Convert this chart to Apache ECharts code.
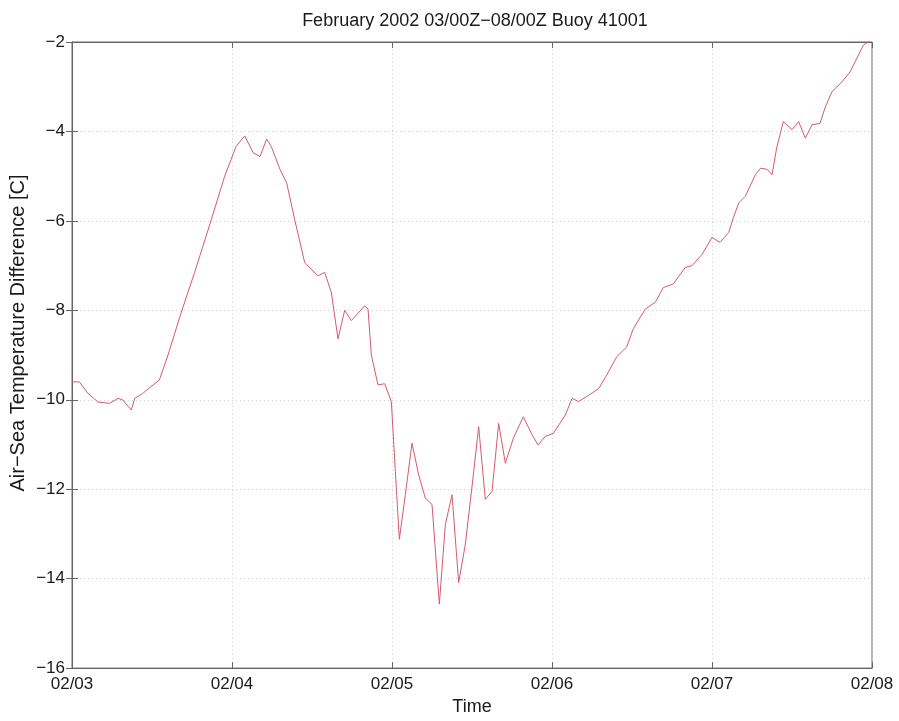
<!DOCTYPE html>
<html>
<head>
<meta charset="utf-8">
<script src="https://cdn.jsdelivr.net/npm/echarts@6/dist/echarts.min.js"></script>
<style>html,body{margin:0;padding:0;background:#fff}#c{width:899px;height:721px}</style>
</head>
<body>
<div id="c"></div>
<script>
const titleText = 'February 2002 03/00Z\u221208/00Z Buoy 41001';
const yName = 'Air\u2212Sea Temperature Difference [C]';
const xName = 'Time';
const xTickLabels = ['02/03', '02/04', '02/05', '02/06', '02/07', '02/08'];
// hours since 02/03 00Z
const hours = [0, 1.1, 2.4, 3.9, 5.6, 6.9, 7.6, 8.9, 9.4, 10.6, 12.4, 13.1, 14.4, 16.4, 18.4, 20.9, 22.9, 24.6,
  25.9, 27.2, 28.2, 29.2, 29.9, 31.2, 32.2, 33.4, 34.9, 36.9, 37.9, 38.9, 39.9, 40.9, 41.9, 43.9, 44.4, 44.9, 45.9, 46.9,
  47.9, 48.5, 49.1, 50, 51, 52, 53, 54, 55.1, 56, 57, 58, 59, 60.2, 61, 62, 63, 64, 65, 66.2, 67.7, 68.9, 69.9, 71, 72.2,
  74, 75, 76, 77.5, 79, 80.2, 81.7, 83.2, 84.2, 86, 87.5, 88.7, 90.2, 92, 93, 94.5,
  96, 97.2, 98.5, 99.2, 100, 101, 102.5, 103.3, 104.3, 105, 105.7, 106.7, 108, 109, 110, 111, 112.2, 113, 114, 115.5, 116.7, 118.7, 119.6];
const diffs = [-9.6, -9.6, -9.86, -10.05, -10.08, -9.97, -10.0, -10.23, -9.97, -9.86, -9.64, -9.56, -9.0, -8.04, -7.15, -5.97, -5.0, -4.34,
  -4.1, -4.48, -4.56, -4.17, -4.34, -4.85, -5.15, -5.97, -6.93, -7.23, -7.15, -7.6, -8.64, -8.0, -8.23, -7.9, -7.97, -9.0, -9.67, -9.64,
  -10.04, -11.6, -13.12, -12.12, -10.97, -11.68, -12.2, -12.34, -14.57, -12.79, -12.12, -14.09, -13.23, -11.68, -10.6, -12.23, -12.05, -10.53, -11.42, -10.86, -10.38, -10.75, -11.01, -10.82, -10.75,
  -10.34, -9.97, -10.04, -9.9, -9.75, -9.45, -9.04, -8.82, -8.41, -7.97, -7.82, -7.49, -7.41, -7.04, -7.0, -6.75,
  -6.37, -6.48, -6.26, -5.93, -5.6, -5.45, -4.97, -4.82, -4.85, -4.97, -4.37, -3.78, -3.96, -3.78, -4.15, -3.85, -3.82, -3.45, -3.11, -2.89, -2.67, -2.07, -1.98];
const yTicks = [-16, -14, -12, -10, -8, -6, -4, -2];

const data = hours.map((h, i) => [h, diffs[i]]);
const font = 'Liberation Sans, Arial, sans-serif';
const frame = '#666';
const txt = '#1a1a1a';
const chart = echarts.init(document.getElementById('c'), null, {renderer: 'canvas'});
const gridLine = {show: true, lineStyle: {color: '#cfcfcf', type: [1, 3], width: 1}};
chart.setOption({
  animation: false,
  backgroundColor: '#fff',
  title: {text: titleText, left: 470, top: 7, textAlign: 'center',
    textStyle: {fontFamily: font, fontSize: 18, fontWeight: 'normal', color: txt}},
  grid: {left: 72, right: 27, top: 42, bottom: 50, show: true, borderColor: frame, borderWidth: 1},
  graphic: [{
    type: 'text', x: 18, y: 333, rotation: Math.PI / 2,
    style: {text: yName, font: '20px ' + font, fill: txt, textAlign: 'center', textVerticalAlign: 'middle'}
  }],
  xAxis: [{
    type: 'value', min: 0, max: 120, interval: 24,
    name: xName, nameLocation: 'middle', nameGap: 28,
    nameTextStyle: {fontFamily: font, fontSize: 18, color: txt},
    axisLine: {show: true, lineStyle: {color: frame}},
    axisTick: {show: true, inside: true, length: 6, lineStyle: {color: frame}},
    axisLabel: {fontFamily: font, fontSize: 17, color: txt, margin: 8,
      formatter: v => xTickLabels[Math.round(v / 24)]},
    splitLine: gridLine
  }, {
    type: 'value', min: 0, max: 120, interval: 24, position: 'top',
    axisLine: {show: true, lineStyle: {color: frame}},
    axisTick: {show: true, inside: true, length: 6, lineStyle: {color: frame}},
    axisLabel: {show: false}, splitLine: {show: false}
  }],
  yAxis: [{
    type: 'value', min: -16, max: -2, interval: 2,
    axisLine: {show: true, lineStyle: {color: frame}},
    axisTick: {show: true, inside: true, length: 6, lineStyle: {color: frame}},
    axisLabel: {fontFamily: font, fontSize: 17, color: txt, margin: 7,
      formatter: v => (v < 0 ? '\u2212' + Math.abs(v) : String(v))},
    splitLine: gridLine
  }, {
    type: 'value', min: -16, max: -2, interval: 2, position: 'right',
    axisLine: {show: true, lineStyle: {color: frame}},
    axisTick: {show: true, inside: true, length: 6, lineStyle: {color: frame}},
    axisLabel: {show: false}, splitLine: {show: false}
  }],
  series: [{
    type: 'line', data: data, xAxisIndex: 0, yAxisIndex: 0,
    showSymbol: false, symbol: 'none',
    lineStyle: {color: '#d45a6e', width: 1}
  }]
});
</script>
</body>
</html>
